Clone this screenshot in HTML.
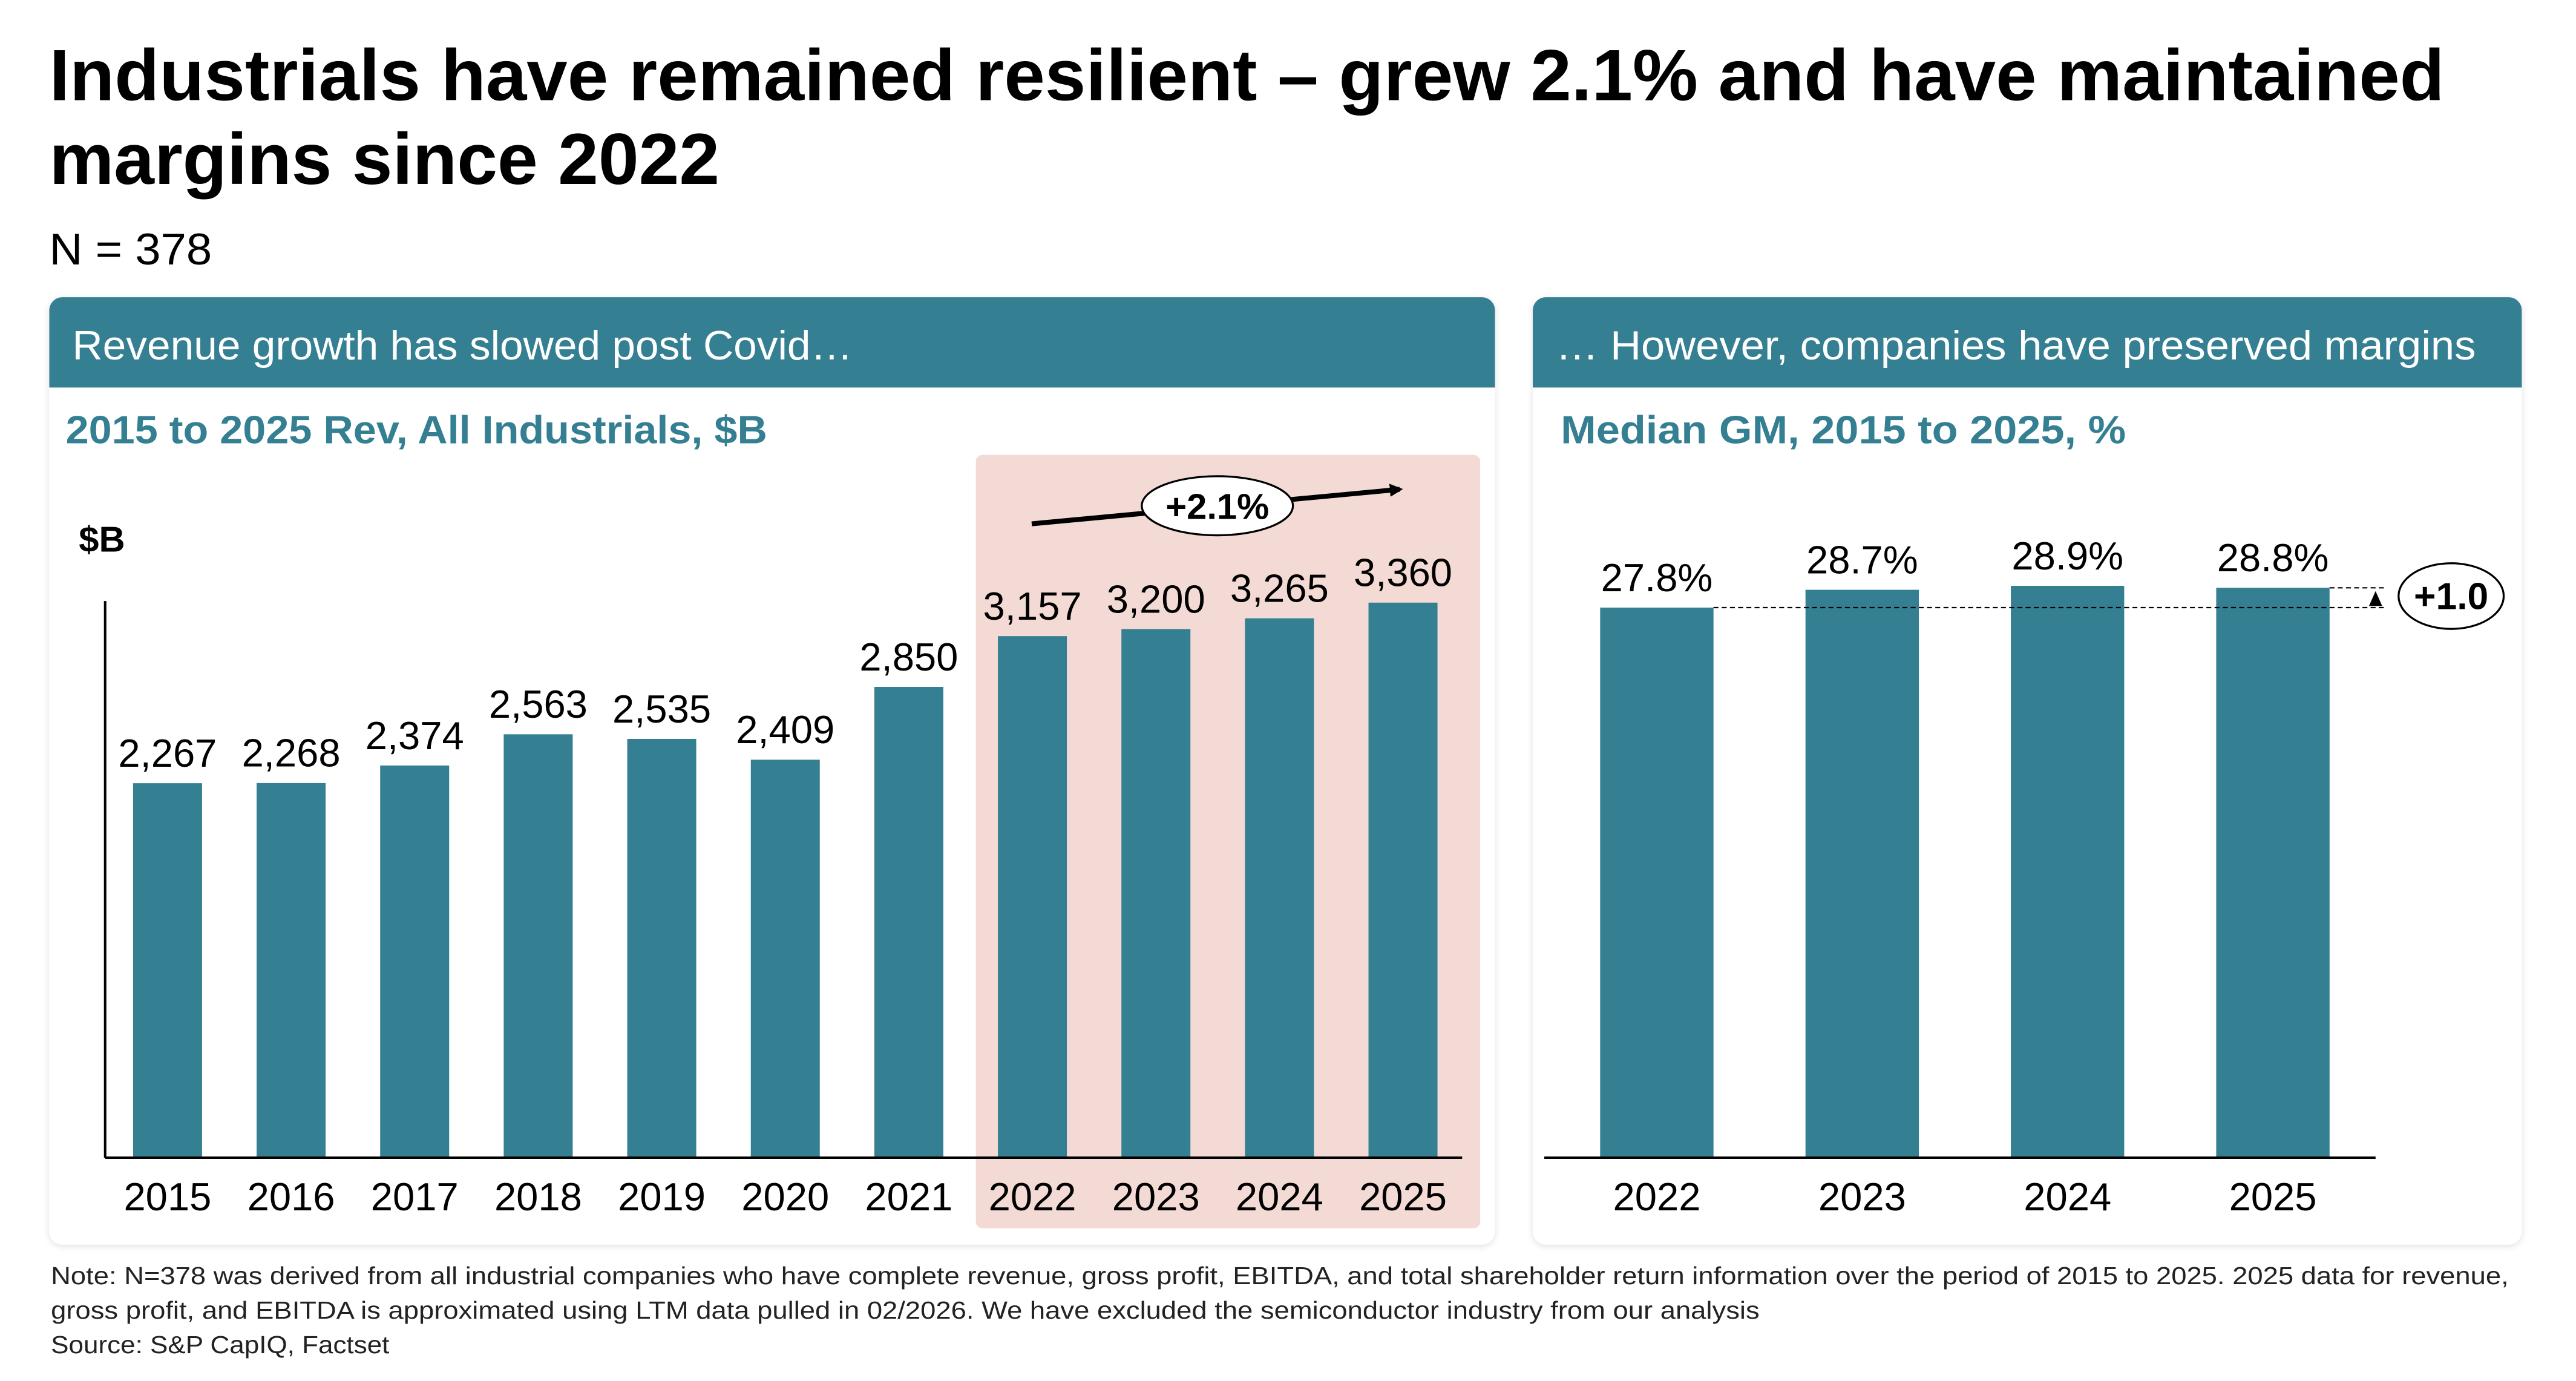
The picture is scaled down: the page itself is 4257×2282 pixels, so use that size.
<!DOCTYPE html>
<html><head><meta charset="utf-8"><style>
html,body{margin:0;padding:0;background:#fff;width:4257px;height:2282px;overflow:hidden}
svg{display:block}
text{font-family:"Liberation Sans",sans-serif}
</style></head><body>
<svg id="root" width="4257" height="2282" viewBox="0 0 1568 841" preserveAspectRatio="none" xmlns="http://www.w3.org/2000/svg">
<defs>
<filter id="sh" x="-5%" y="-5%" width="110%" height="110%"><feDropShadow dx="0" dy="1" stdDeviation="2" flood-color="#000" flood-opacity="0.12"/></filter>
<marker id="ah" markerWidth="8" markerHeight="8" refX="6" refY="4" orient="auto" markerUnits="userSpaceOnUse"><path d="M0,0 L8,4 L0,8 Z" fill="#000"/></marker>
</defs>
<text x="30" y="61" font-size="44" font-weight="bold" textLength="1458" lengthAdjust="spacingAndGlyphs">Industrials have remained resilient – grew 2.1% and have maintained</text>
<text x="30" y="112" font-size="44" font-weight="bold" textLength="408" lengthAdjust="spacingAndGlyphs">margins since 2022</text>
<text x="30" y="161" font-size="27" textLength="99" lengthAdjust="spacingAndGlyphs">N = 378</text>

<g>
<rect x="30" y="181" width="880" height="577" rx="8" fill="#fff" filter="url(#sh)"/>
<path d="M30,189 a8,8 0 0 1 8,-8 H902 a8,8 0 0 1 8,8 V236 H30 Z" fill="#357f93"/>
<text x="44" y="219" font-size="25" fill="#fff" textLength="475" lengthAdjust="spacingAndGlyphs">Revenue growth has slowed post Covid…</text>
<text x="40" y="270" font-size="24" font-weight="bold" fill="#357f93" textLength="427" lengthAdjust="spacingAndGlyphs">2015 to 2025 Rev, All Industrials, $B</text>
<rect x="594" y="277" width="307" height="471" rx="4" fill="#f4dad5"/>
<text x="48" y="336" font-size="22" font-weight="bold">$B</text>
<g id="revBars"></g>
<line x1="64" y1="366" x2="64" y2="705" stroke="#000" stroke-width="1.5"/>
<line x1="64" y1="705" x2="890" y2="705" stroke="#000" stroke-width="1.5"/>
<line x1="628" y1="319" x2="852" y2="298" stroke="#000" stroke-width="3" marker-end="url(#ah)"/>
<ellipse cx="741" cy="308" rx="46" ry="18" fill="#fff" stroke="#000" stroke-width="1.2"/>
<text x="741" y="316" font-size="22" font-weight="bold" text-anchor="middle">+2.1%</text>
</g>

<g>
<rect x="933" y="181" width="602" height="577" rx="8" fill="#fff" filter="url(#sh)"/>
<path d="M933,189 a8,8 0 0 1 8,-8 H1527 a8,8 0 0 1 8,8 V236 H933 Z" fill="#357f93"/>
<text x="947" y="219" font-size="25" fill="#fff" textLength="560" lengthAdjust="spacingAndGlyphs">… However, companies have preserved margins</text>
<text x="950" y="270" font-size="24" font-weight="bold" fill="#357f93" textLength="344" lengthAdjust="spacingAndGlyphs">Median GM, 2015 to 2025, %</text>
<g id="gmBars"></g>
<line x1="940" y1="705" x2="1446" y2="705" stroke="#000" stroke-width="1.5"/>
<g id="gmDelta"></g>
<ellipse cx="1492" cy="363" rx="32" ry="20" fill="#fff" stroke="#000" stroke-width="1.2"/>
<text x="1492" y="371" font-size="23" font-weight="bold" text-anchor="middle">+1.0</text>
</g>

<text x="31" y="782" font-size="15" fill="#222" textLength="1496" lengthAdjust="spacingAndGlyphs">Note: N=378 was derived from all industrial companies who have complete revenue, gross profit, EBITDA, and total shareholder return information over the period of 2015 to 2025. 2025 data for revenue,</text>
<text x="31" y="803" font-size="15" fill="#222" textLength="1040" lengthAdjust="spacingAndGlyphs">gross profit, and EBITDA is approximated using LTM data pulled in 02/2026. We have excluded the semiconductor industry from our analysis</text>
<text x="31" y="824" font-size="15" fill="#222" textLength="206" lengthAdjust="spacingAndGlyphs">Source: S&amp;P CapIQ, Factset</text>
</svg>
<script>
const revYears = ["2015","2016","2017","2018","2019","2020","2021","2022","2023","2024","2025"];
const revValues = [2267,2268,2374,2563,2535,2409,2850,3157,3200,3265,3360];
const revLabels = ["2,267","2,268","2,374","2,563","2,535","2,409","2,850","3,157","3,200","3,265","3,360"];
const gmYears = ["2022","2023","2024","2025"];
const gmValues = [27.8,28.7,28.9,28.8];
const gmLabels = ["27.8%","28.7%","28.9%","28.8%"];

const NS = "http://www.w3.org/2000/svg";
const TEAL = "#357f93";
function mk(tag, attrs, parent, txt){
  const e = document.createElementNS(NS, tag);
  for (const k in attrs) e.setAttribute(k, attrs[k]);
  if (txt !== undefined) e.textContent = txt;
  parent.appendChild(e);
  return e;
}
const base = 705;
function revX(i){ return 81 + i * 75.2; }
function revY(v){ return base - v * 0.1006; }
function gmX(i){ return 974 + i * 125; }
function gmY(v){ return base - v * 12.05; }

const rg = document.getElementById("revBars");
revValues.forEach((v, i) => {
  const x = revX(i), y = revY(v), w = 42;
  const b = mk("rect", {x:x, y:y, width:w, height:base - y, fill:TEAL}, rg);
  
  
  const t = mk("text", {x:x + w/2, y:y - 10, "font-size":24, "text-anchor":"middle"}, rg, revLabels[i]);
  
  
  const yl = mk("text", {x:x + w/2, y:737, "font-size":24, "text-anchor":"middle"}, rg, revYears[i]);
  
  
});

const gg = document.getElementById("gmBars");
gmValues.forEach((v, i) => {
  const x = gmX(i), y = gmY(v), w = 69;
  const b = mk("rect", {x:x, y:y, width:w, height:base - y, fill:TEAL}, gg);
  
  
  const t = mk("text", {x:x + w/2, y:y - 10, "font-size":24, "text-anchor":"middle"}, gg, gmLabels[i]);
  
  
  const yl = mk("text", {x:x + w/2, y:737, "font-size":24, "text-anchor":"middle"}, gg, gmYears[i]);
  
  
});

const dg = document.getElementById("gmDelta");
const y0 = gmY(gmValues[0]), y1 = gmY(gmValues[gmValues.length - 1]);
const l1 = mk("line", {x1:gmX(0) + 69, y1:y0, x2:1452, y2:y0, stroke:"#000", "stroke-width":0.8, "stroke-dasharray":"3,2"}, dg);


const l2 = mk("line", {x1:gmX(gmValues.length - 1) + 69, y1:y1, x2:1452, y2:y1, stroke:"#000", "stroke-width":0.8, "stroke-dasharray":"3,2"}, dg);


const ar = mk("path", {d:"M1446," + (y1 + 2) + " L1442," + (y0 - 1) + " L1450," + (y0 - 1) + " Z", fill:"#000"}, dg);


</script>
</body></html>
